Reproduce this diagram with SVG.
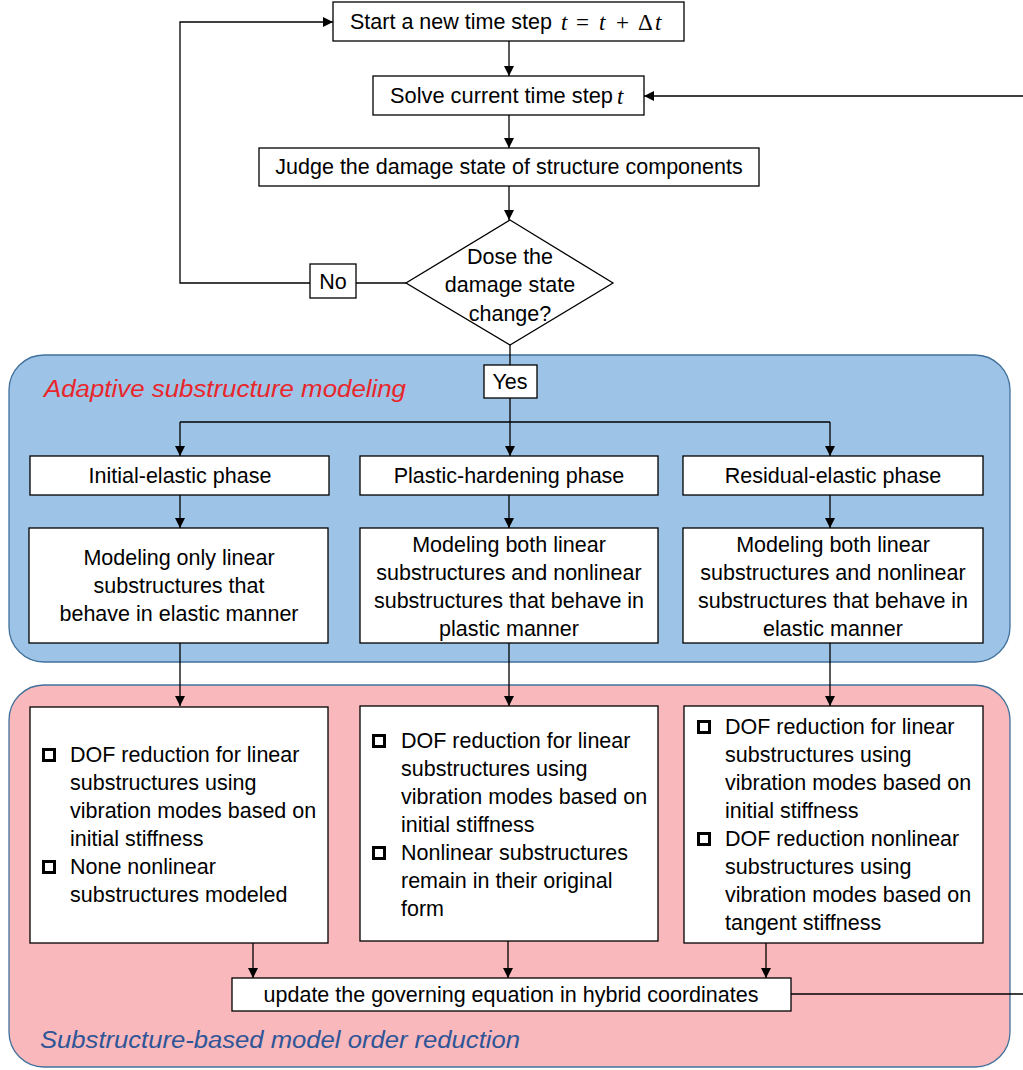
<svg xmlns="http://www.w3.org/2000/svg" width="1023" height="1070" viewBox="0 0 1023 1070">
<style>
.t{font-family:"Liberation Sans",Arial,sans-serif;font-size:21.5px;fill:#000}
.c{text-anchor:middle}
.box{fill:#fff;stroke:#000;stroke-width:1.3}
.ln{fill:none;stroke:#000;stroke-width:1.3}
.cb{fill:none;stroke:#000;stroke-width:3}
.m{font-family:"Liberation Serif","Times New Roman",serif;font-size:23px;fill:#000}
.mi{font-style:italic}
.reg{stroke:#41719C;stroke-width:1.3}
</style>
<defs>
<marker id="ah" viewBox="0 0 10 10" refX="10" refY="5" markerWidth="10" markerHeight="10" markerUnits="userSpaceOnUse" orient="auto">
<path d="M0,0 L10,5 L0,10 z" fill="#000"/>
</marker>
</defs>
<rect width="1023" height="1070" fill="#fff"/>

<g id="region-adaptive">
<rect class="reg" x="9" y="355" width="1001" height="307" rx="35" fill="#9DC3E6"/>
<text class="t" x="44" y="397" style="font-style:italic;font-size:23px;fill:#E8262B" textLength="362" lengthAdjust="spacingAndGlyphs">Adaptive substructure modeling</text>
</g>
<g id="region-reduction">
<rect class="reg" x="9" y="685" width="1001" height="382" rx="35" fill="#F8B8BC"/>
<text class="t" x="40" y="1048" style="font-style:italic;font-size:23px;fill:#2F5597" textLength="480" lengthAdjust="spacingAndGlyphs">Substructure-based model order reduction</text>
</g>

<g id="connectors">
<path class="ln" d="M310,283 H180 V22 H333" marker-end="url(#ah)"/>
<path class="ln" d="M356,283 H406"/>
<path class="ln" d="M509,41 V76" marker-end="url(#ah)"/>
<path class="ln" d="M509,115 V148" marker-end="url(#ah)"/>
<path class="ln" d="M509,186 V220" marker-end="url(#ah)"/>
<path class="ln" d="M510,345 V365"/>
<path class="ln" d="M510,398 V456" marker-end="url(#ah)"/>
<path class="ln" d="M180,422 H830"/>
<path class="ln" d="M180,422 V456" marker-end="url(#ah)"/>
<path class="ln" d="M830,422 V456" marker-end="url(#ah)"/>
<path class="ln" d="M180,495 V528" marker-end="url(#ah)"/>
<path class="ln" d="M509,495 V528" marker-end="url(#ah)"/>
<path class="ln" d="M830,495 V528" marker-end="url(#ah)"/>
<path class="ln" d="M180,643 V706" marker-end="url(#ah)"/>
<path class="ln" d="M509,643 V706" marker-end="url(#ah)"/>
<path class="ln" d="M830,643 V706" marker-end="url(#ah)"/>
<path class="ln" d="M253,943 V978" marker-end="url(#ah)"/>
<path class="ln" d="M508,941 V978" marker-end="url(#ah)"/>
<path class="ln" d="M766,943 V978" marker-end="url(#ah)"/>
<path class="ln" d="M791,994 H1030 V96 H644" marker-end="url(#ah)"/>
</g>

<g id="start">
<rect class="box" x="333" y="2" width="351" height="39"/>
<text class="t" x="350" y="29" textLength="202" lengthAdjust="spacingAndGlyphs">Start a new time step</text>
<text class="m mi" x="561" y="30">t</text>
<text class="m" x="576" y="30">=</text>
<text class="m mi" x="599" y="30">t</text>
<text class="m" x="616" y="30">+</text>
<text class="m" x="638" y="30">Δ</text>
<text class="m mi" x="655" y="30">t</text>
</g>

<g id="solve">
<rect class="box" x="373" y="76" width="271" height="39"/>
<text class="t" x="390" y="103" textLength="223" lengthAdjust="spacingAndGlyphs">Solve current time step</text>
<text class="m mi" x="617" y="104">t</text>
</g>

<g id="judge">
<rect class="box" x="259" y="148" width="500" height="38"/>
<text class="t c" x="509" y="174">Judge the damage state of structure components</text>
</g>

<g id="decision">
<polygon class="box" points="510,220 613,283 510,345 406,283"/>
<text class="t c" x="510" y="264">Dose the</text>
<text class="t c" x="510" y="292">damage state</text>
<text class="t c" x="510" y="321">change?</text>
</g>

<g id="no">
<rect class="box" x="310" y="264" width="46" height="34"/>
<text class="t c" x="333" y="289">No</text>
</g>

<g id="yes">
<rect class="box" x="484" y="365" width="53" height="33"/>
<text class="t c" x="510" y="389">Yes</text>
</g>

<g id="phase-initial">
<rect class="box" x="30" y="456" width="299" height="39"/>
<text class="t c" x="180" y="483">Initial-elastic phase</text>
</g>
<g id="phase-plastic">
<rect class="box" x="360" y="456" width="298" height="39"/>
<text class="t c" x="509" y="483">Plastic-hardening phase</text>
</g>
<g id="phase-residual">
<rect class="box" x="683" y="456" width="300" height="39"/>
<text class="t c" x="833" y="483">Residual-elastic phase</text>
</g>

<g id="model-initial">
<rect class="box" x="29" y="528" width="299" height="115"/>
<text class="t c" x="179" y="565">Modeling only linear</text>
<text class="t c" x="179" y="593">substructures that</text>
<text class="t c" x="179" y="621">behave in elastic manner</text>
</g>
<g id="model-plastic">
<rect class="box" x="360" y="528" width="298" height="115"/>
<text class="t c" x="509" y="552">Modeling both linear</text>
<text class="t c" x="509" y="580">substructures and nonlinear</text>
<text class="t c" x="509" y="608">substructures that behave in</text>
<text class="t c" x="509" y="636">plastic manner</text>
</g>
<g id="model-residual">
<rect class="box" x="683" y="528" width="300" height="115"/>
<text class="t c" x="833" y="552">Modeling both linear</text>
<text class="t c" x="833" y="580">substructures and nonlinear</text>
<text class="t c" x="833" y="608">substructures that behave in</text>
<text class="t c" x="833" y="636">elastic manner</text>
</g>

<g id="reduce-initial">
<rect class="box" x="30" y="707" width="298" height="236"/>
<rect class="cb" x="43.5" y="749.5" width="11" height="11"/>
<text class="t" x="70" y="762">DOF reduction for linear</text>
<text class="t" x="70" y="790">substructures using</text>
<text class="t" x="70" y="818">vibration modes based on</text>
<text class="t" x="70" y="846">initial stiffness</text>
<rect class="cb" x="43.5" y="861.5" width="11" height="11"/>
<text class="t" x="70" y="874">None nonlinear</text>
<text class="t" x="70" y="902">substructures modeled</text>
</g>
<g id="reduce-plastic">
<rect class="box" x="360" y="706" width="298" height="235"/>
<rect class="cb" x="373.5" y="735.5" width="11" height="11"/>
<text class="t" x="401" y="748">DOF reduction for linear</text>
<text class="t" x="401" y="776">substructures using</text>
<text class="t" x="401" y="804">vibration modes based on</text>
<text class="t" x="401" y="832">initial stiffness</text>
<rect class="cb" x="373.5" y="847.5" width="11" height="11"/>
<text class="t" x="401" y="860">Nonlinear substructures</text>
<text class="t" x="401" y="888">remain in their original</text>
<text class="t" x="401" y="916">form</text>
</g>
<g id="reduce-residual">
<rect class="box" x="684" y="706" width="299" height="237"/>
<rect class="cb" x="698.5" y="721.5" width="11" height="11"/>
<text class="t" x="725" y="734">DOF reduction for linear</text>
<text class="t" x="725" y="762">substructures using</text>
<text class="t" x="725" y="790">vibration modes based on</text>
<text class="t" x="725" y="818">initial stiffness</text>
<rect class="cb" x="698.5" y="833.5" width="11" height="11"/>
<text class="t" x="725" y="846">DOF reduction nonlinear</text>
<text class="t" x="725" y="874">substructures using</text>
<text class="t" x="725" y="902">vibration modes based on</text>
<text class="t" x="725" y="930">tangent stiffness</text>
</g>

<g id="update">
<rect class="box" x="232" y="978" width="559" height="33"/>
<text class="t c" x="511" y="1002">update the governing equation in hybrid coordinates</text>
</g>
</svg>
